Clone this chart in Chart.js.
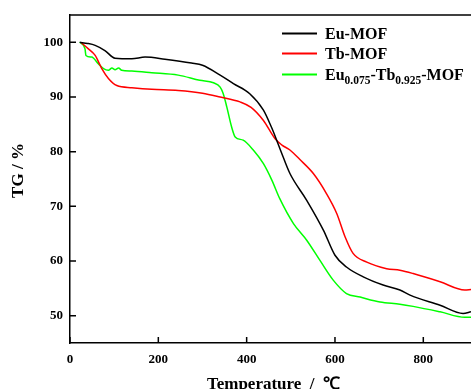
<!DOCTYPE html>
<html><head><meta charset="utf-8">
<script src="https://cdn.jsdelivr.net/npm/chart.js@4.4.0/dist/chart.umd.min.js"></script>
<style>html,body{margin:0;padding:0;background:#fff;overflow:hidden}</style>
</head><body>
<canvas id="c" width="471" height="389"></canvas>
<script>
const tempEu = [22, 40, 57, 79, 102, 140, 170, 215, 275, 300, 340, 370, 407, 438, 456, 468, 478, 498, 536, 574, 600, 626, 664, 709, 747, 770, 838, 890, 908];
const tgEu   = [100, 99.8, 99.45, 98.5, 97.1, 97.0, 97.3, 96.9, 96.2, 95.8, 94.0, 92.45, 90.6, 87.6, 84.5, 82.1, 80.0, 76.0, 71.1, 65.6, 61.05, 58.9, 57.1, 55.6, 54.7, 53.75, 51.9, 50.4, 50.7];
const tempTb = [26, 41, 57, 72, 87, 106, 140, 185, 245, 300, 340, 385, 410, 438, 464, 480, 498, 520, 551, 581, 604, 623, 641, 672, 717, 747, 777, 838, 894, 908];
const tgTb   = [99.9, 98.85, 97.6, 95.2, 93.4, 92.1, 91.7, 91.4, 91.2, 90.7, 90.0, 89.1, 88.1, 85.7, 82.4, 81.2, 80.3, 78.6, 76.0, 72.3, 68.7, 64.4, 61.4, 59.8, 58.6, 58.3, 57.7, 56.2, 54.7, 54.8];
const tempMix = [22, 34, 36, 49, 64, 76, 87, 95, 102, 110, 117, 140, 185, 245, 294, 325, 340, 347, 355, 366, 374, 392, 415, 438, 457, 475, 506, 536, 566, 596, 626, 657, 702, 747, 777, 838, 894, 908];
const tgMix   = [100, 98.8, 97.6, 97.3, 96.1, 95.2, 94.9, 95.3, 95.0, 95.3, 94.9, 94.75, 94.45, 94.0, 93.05, 92.6, 91.8, 90.6, 88.2, 84.5, 82.7, 82.1, 80.3, 77.8, 74.8, 71.4, 66.85, 63.8, 60.1, 56.5, 54.05, 53.4, 52.5, 52.1, 51.7, 50.7, 49.7, 49.7];
const xTicks = [0, 200, 400, 600, 800];
const yTicks = [50, 60, 70, 80, 90, 100];
const seriesNames = ["Eu-MOF", "Tb-MOF", "Eu0.075-Tb0.925-MOF"];
const seriesColors = ["#000000", "#ff0000", "#00ff00"];

const FONT = '"Liberation Serif","Times New Roman",serif';
const pts = (xs, ys) => xs.map((x, i) => ({x, y: ys[i]}));

const framePlugin = {
  id: 'frame',
  afterDraw(chart) {
    const ctx = chart.ctx, a = chart.chartArea;
    const xs = chart.scales.x, ys = chart.scales.y;
    ctx.save();
    ctx.strokeStyle = '#000'; ctx.lineWidth = 1.5;
    ctx.beginPath(); ctx.moveTo(a.left, a.top); ctx.lineTo(a.right, a.top); ctx.stroke();
    ctx.beginPath();
    xTicks.forEach(v => { const p = xs.getPixelForValue(v); ctx.moveTo(p, a.bottom); ctx.lineTo(p, a.bottom - 6); });
    yTicks.forEach(v => { const p = ys.getPixelForValue(v); ctx.moveTo(a.left, p); ctx.lineTo(a.left + 6, p); });
    ctx.stroke();
    // axis titles
    ctx.fillStyle = '#000';
    ctx.font = 'bold 17px ' + FONT;
    ctx.textAlign = 'center'; ctx.textBaseline = 'alphabetic';
    ctx.fillText('Temperature  /  ℃', (a.left + a.right) / 2 + 3, 389);
    ctx.save();
    ctx.translate(19, 170.5); ctx.rotate(-Math.PI / 2);
    ctx.textBaseline = 'middle';
    ctx.fillText('TG / %', 0, 0);
    ctx.restore();
    // legend
    const lx0 = 282, lx1 = 317, tx = 325;
    const rows = [33.5, 53.5, 74.5];
    ctx.textAlign = 'left'; ctx.textBaseline = 'alphabetic';
    rows.forEach((ry, i) => {
      ctx.strokeStyle = seriesColors[i]; ctx.lineWidth = 2;
      ctx.beginPath(); ctx.moveTo(lx0, ry); ctx.lineTo(lx1, ry); ctx.stroke();
      const base = ry + 5;
      if (i < 2) {
        ctx.font = 'bold 16px ' + FONT;
        ctx.fillText(seriesNames[i], tx, base);
      } else {
        const parts = [['Eu', 0], ['0.075', 1], ['-Tb', 0], ['0.925', 1], ['-MOF', 0]];
        let x = tx;
        parts.forEach(([t, sub]) => {
          ctx.font = sub ? 'bold 11.5px ' + FONT : 'bold 16px ' + FONT;
          ctx.fillText(t, x, sub ? base + 4.5 : base);
          x += ctx.measureText(t).width;
        });
      }
    });
    ctx.restore();
  }
};

const ds = (label, xs, ys, color) => ({
  label, data: pts(xs, ys), borderColor: color, backgroundColor: color,
  borderWidth: 1.5, pointRadius: 0, fill: false, cubicInterpolationMode: 'monotone'
});

new Chart(document.getElementById('c'), {
  type: 'line',
  data: { datasets: [
    ds(seriesNames[0], tempEu, tgEu, seriesColors[0]),
    ds(seriesNames[1], tempTb, tgTb, seriesColors[1]),
    ds(seriesNames[2], tempMix, tgMix, seriesColors[2])
  ]},
  options: {
    responsive: false, animation: false, devicePixelRatio: 1,
    layout: { padding: { top: 15, right: 0, left: 0, bottom: 0 } },
    plugins: { legend: { display: false }, tooltip: { enabled: false } },
    scales: {
      x: {
        type: 'linear', min: 0, max: 908,
        afterBuildTicks: s => { s.ticks = xTicks.map(v => ({value: v})); },
        afterFit: s => { s.height = 46; },
        grid: { display: true, drawOnChartArea: false, drawTicks: false },
        border: { display: true, color: '#000', width: 1.5 },
        ticks: { color: '#000', padding: 9, font: { family: FONT, size: 13, weight: 'bold' }, maxRotation: 0 }
      },
      y: {
        type: 'linear', min: 45, max: 105,
        afterBuildTicks: s => { s.ticks = yTicks.map(v => ({value: v})); },
        afterFit: s => { s.width = 70; },
        grid: { display: true, drawOnChartArea: false, drawTicks: false },
        border: { display: true, color: '#000', width: 1.5 },
        ticks: { color: '#000', padding: 7, font: { family: FONT, size: 13, weight: 'bold' } }
      }
    }
  },
  plugins: [framePlugin]
});
</script>
</body></html>
